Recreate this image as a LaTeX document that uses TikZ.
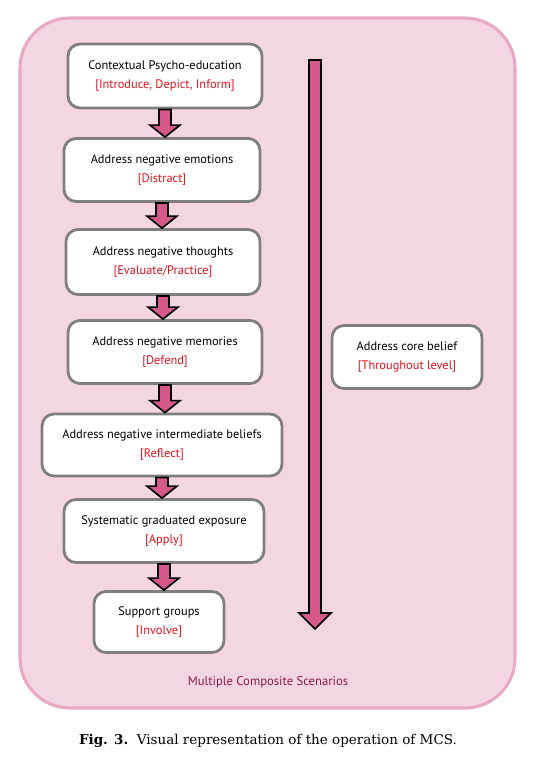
\documentclass[tikz,border=0pt]{standalone}
\usepackage{fontspec}
\setmainfont{DejaVu Serif}
\newfontfamily\boxfont{PT Sans}
\usetikzlibrary{calc}

\definecolor{panelpink}{HTML}{F4D6E2}
\definecolor{panelline}{HTML}{E9A9C5}
\definecolor{arrowpink}{HTML}{D5588A}
\definecolor{tagred}{HTML}{E8101E}
\definecolor{scenario}{HTML}{8A1C4C}
\definecolor{boxgray}{HTML}{7F7F7F}

% block arrow from one box down to the next
\newcommand{\stepdown}[2]{%
  \path (#1.south) coordinate (s) (#1.south |- #2.north) coordinate (t);
  \draw[block arrow] ($(s)+(-6,0)$) -- ($(t)+(-6,-12)$) -- ($(t)+(-15,-12)$) -- (t)
    -- ($(t)+(15,-12)$) -- ($(t)+(6,-12)$) -- ($(s)+(6,0)$) -- cycle;}

\begin{document}
\begin{tikzpicture}[x=0.025cm,y=-0.025cm,
  stage/.style={draw=boxgray,line width=2pt,fill=white,rounded corners=0.3cm,
    align=center,font=\boxfont\fontsize{8.8}{13.5}\selectfont,inner sep=2pt},
  size/.style 2 args={minimum width=#1*0.025cm,minimum height=#2*0.025cm},
  block arrow/.style={draw=black,line width=1.2pt,fill=arrowpink,line join=miter}]

  \useasboundingbox (0,0) rectangle (537,762);
  \draw[panelline,fill=panelpink,line width=2.2pt,rounded corners=1.25cm] (20,18) rectangle (515,708);

  \node[stage,size={194}{64}] (edu) at (165,76)
    {Contextual Psycho-education\\\textcolor{tagred}{[Introduce, Depict, Inform]}};
  \node[stage,size={196}{63}] (emo) at (162,170)
    {Address negative emotions\\\textcolor{tagred}{[Distract]}};
  \node[stage,size={194}{65}] (tho) at (163,262)
    {Address negative thoughts\\\textcolor{tagred}{[Evaluate/Practice]}};
  \node[stage,size={194}{63}] (mem) at (165,352)
    {Address negative memories\\\textcolor{tagred}{[Defend]}};
  \node[stage,size={240}{62}] (bel) at (162,445)
    {Address negative intermediate beliefs\\\textcolor{tagred}{[Reflect]}};
  \node[stage,size={200}{63}] (exp) at (164,531)
    {Systematic graduated exposure\\\textcolor{tagred}{[Apply]}};
  \node[stage,size={130}{61}] (sup) at (159,622)
    {Support groups\\\textcolor{tagred}{[Involve]}};
  \node[stage,size={150}{63}] (core) at (407,357)
    {Address core belief\\\textcolor{tagred}{[Throughout level]}};

  \stepdown{edu}{emo}
  \stepdown{emo}{tho}
  \stepdown{tho}{mem}
  \stepdown{mem}{bel}
  \stepdown{bel}{exp}
  \stepdown{exp}{sup}

  % long arrow beside the stages
  \coordinate (top) at (315,60);
  \coordinate (bottom) at (315,629);
  \draw[block arrow] ($(top)+(-6,0)$) -- ($(bottom)+(-6,-16)$) -- ($(bottom)+(-16,-16)$) -- (bottom)
    -- ($(bottom)+(16,-16)$) -- ($(bottom)+(6,-16)$) -- ($(top)+(6,0)$) -- cycle;

  \node[font=\boxfont\fontsize{9}{12}\selectfont,text=scenario] (mcs) at (268,682) {Multiple Composite Scenarios};
  \node[font=\fontsize{9.6}{12}\selectfont] (cap) at (268,741) {\textbf{Fig. 3.}\ \ Visual representation of the operation of MCS.};
\end{tikzpicture}
\end{document}
